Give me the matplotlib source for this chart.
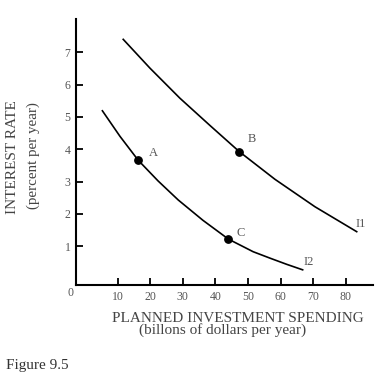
import matplotlib
matplotlib.use("Agg")
import matplotlib.pyplot as plt

# curve readings (billions of dollars, percent)
i1_x = [11.7, 19.9, 29.1, 38.4, 47.3, 58.3, 70.6, 83.4]
i1_y = [7.40, 6.51, 5.58, 4.73, 3.93, 3.07, 2.22, 1.45]
i2_x = [5.3, 10.7, 16.3, 22.4, 28.6, 36.2, 44.0, 51.6, 56.8, 61.9, 66.8]
i2_y = [5.19, 4.40, 3.66, 3.02, 2.43, 1.80, 1.22, 0.83, 0.63, 0.44, 0.27]
pts_name = ["A", "B", "C"]
pts_x = [16.3, 47.3, 44.0]
pts_y = [3.66, 3.93, 1.22]
xticks = [10, 20, 30, 40, 50, 60, 70, 80]
yticks = [1, 2, 3, 4, 5, 6, 7]

serif = ["Liberation Serif", "DejaVu Serif"]
grey = "#555555"
dark = "#444444"

fig = plt.figure(figsize=(3.88, 3.82), dpi=100)
ax = fig.add_axes([0.1959, 0.2539, 0.7654, 0.6964])

ax.plot(i1_x, i1_y, color="black", lw=1.2, solid_joinstyle="round")
ax.plot(i2_x, i2_y, color="black", lw=1.2, solid_joinstyle="round")
ax.scatter(pts_x, pts_y, s=28, color="black", zorder=3)

offs = {"A": (11, 5), "B": (9, 9), "C": (8.5, 4.5)}
for n, x, y in zip(pts_name, pts_x, pts_y):
    ax.annotate(n, (x, y), xytext=offs[n], textcoords="offset points",
                fontsize=9, color=grey, family=serif, ha="center", va="center")

ax.text(84.7, 1.69, "I1", fontsize=9, color=grey, family=serif,
        ha="center", va="center")
ax.text(68.7, 0.50, "I2", fontsize=9, color=grey, family=serif,
        ha="center", va="center")

ax.set_xlim(-2.8, 88.4)
ax.set_ylim(-0.2, 8.03)
for s in ["top", "right"]:
    ax.spines[s].set_visible(False)
for s in ["left", "bottom"]:
    ax.spines[s].set_linewidth(1.5)

ax.set_xticks(xticks)
ax.set_yticks(yticks)
ax.tick_params(direction="in", length=5, width=1.3, labelsize=8.5,
               labelcolor=grey, pad=4)
for lab in ax.get_xticklabels() + ax.get_yticklabels():
    lab.set_family(serif)

fig.text(70.7 / 388, 1 - 293 / 382, "0", fontsize=8.5, color=grey, family=serif,
         ha="center", va="center")

fig.text(13 / 388, 1 - 157 / 382, "INTEREST RATE", rotation=90, fontsize=11,
         color=dark, family=serif, ha="center", va="center")
fig.text(33 / 388, 1 - 156 / 382, "(percent per year)", rotation=90, fontsize=10.8,
         color=dark, family=serif, ha="center", va="center")
fig.text(237.5 / 388, 1 - 318 / 382, "PLANNED INVESTMENT SPENDING", fontsize=11,
         color=dark, family=serif, ha="center", va="center")
fig.text(222.7 / 388, 1 - 330 / 382, "(billons of dollars per year)", fontsize=11,
         color=dark, family=serif, ha="center", va="center")
fig.text(6 / 388, 1 - 365 / 382, "Figure 9.5", fontsize=11,
         color="#333333", family=serif, ha="left", va="center")

fig.savefig("out.png", dpi=100)
